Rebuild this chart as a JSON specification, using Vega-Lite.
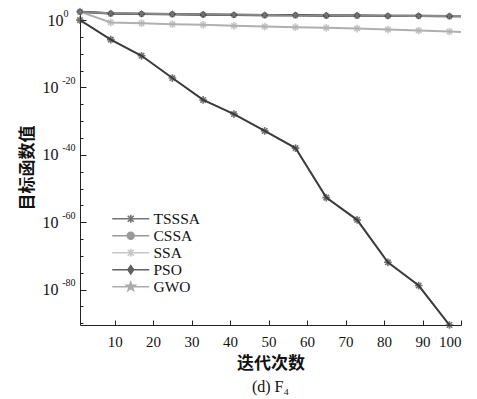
{
  "$schema": "https://vega.github.io/schema/vega-lite/v6.json",
  "width": 381,
  "height": 315,
  "autosize": "none",
  "padding": {"left": 80, "top": 10, "right": 16, "bottom": 74},
  "background": "white",
  "title": {"text": "(d) F₄", "orient": "bottom", "font": "Liberation Serif", "fontSize": 16, "fontWeight": "normal", "color": "#111", "offset": 8, "anchor": "middle"},
  "config": {
    "view": {"stroke": null},
    "axis": {"grid": false, "domainColor": "#222", "tickColor": "#222", "labelColor": "#111", "titleColor": "#111", "labelFont": "Liberation Serif", "labelFontSize": 15, "titleFont": "Noto Sans CJK SC", "titleFontSize": 17, "titleFontWeight": "bold"}
  },
  "resolve": {"axis": {"y": "independent"}},
  "data": {"values": [
    {"algo": "TSSSA", "iter": 1, "value": 1},
    {"algo": "TSSSA", "iter": 9, "value": 1.58e-6},
    {"algo": "TSSSA", "iter": 17, "value": 2.51e-11},
    {"algo": "TSSSA", "iter": 25, "value": 6.31e-18},
    {"algo": "TSSSA", "iter": 33, "value": 2.0e-24},
    {"algo": "TSSSA", "iter": 41, "value": 1.26e-28},
    {"algo": "TSSSA", "iter": 49, "value": 1.26e-33},
    {"algo": "TSSSA", "iter": 57, "value": 1.0e-38},
    {"algo": "TSSSA", "iter": 65, "value": 2.0e-53},
    {"algo": "TSSSA", "iter": 73, "value": 5.01e-60},
    {"algo": "TSSSA", "iter": 81, "value": 1.26e-72},
    {"algo": "TSSSA", "iter": 89, "value": 1.58e-79},
    {"algo": "TSSSA", "iter": 97, "value": 3.0e-91},
    {"algo": "CSSA", "iter": 1, "value": 316},
    {"algo": "CSSA", "iter": 9, "value": 79.4},
    {"algo": "CSSA", "iter": 17, "value": 63.1},
    {"algo": "CSSA", "iter": 25, "value": 50.1},
    {"algo": "CSSA", "iter": 33, "value": 39.8},
    {"algo": "CSSA", "iter": 41, "value": 31.6},
    {"algo": "CSSA", "iter": 49, "value": 25.1},
    {"algo": "CSSA", "iter": 57, "value": 25.1},
    {"algo": "CSSA", "iter": 65, "value": 20.0},
    {"algo": "CSSA", "iter": 73, "value": 20.0},
    {"algo": "CSSA", "iter": 81, "value": 15.8},
    {"algo": "CSSA", "iter": 89, "value": 15.8},
    {"algo": "CSSA", "iter": 97, "value": 12.6},
    {"algo": "CSSA", "iter": 100, "value": 12.6},
    {"algo": "SSA", "iter": 1, "value": 316},
    {"algo": "SSA", "iter": 9, "value": 0.2},
    {"algo": "SSA", "iter": 17, "value": 0.126},
    {"algo": "SSA", "iter": 25, "value": 0.063},
    {"algo": "SSA", "iter": 33, "value": 0.0398},
    {"algo": "SSA", "iter": 41, "value": 0.02},
    {"algo": "SSA", "iter": 49, "value": 0.0126},
    {"algo": "SSA", "iter": 57, "value": 0.0079},
    {"algo": "SSA", "iter": 65, "value": 0.005},
    {"algo": "SSA", "iter": 73, "value": 0.00316},
    {"algo": "SSA", "iter": 81, "value": 0.00158},
    {"algo": "SSA", "iter": 89, "value": 0.00079},
    {"algo": "SSA", "iter": 97, "value": 0.0004},
    {"algo": "SSA", "iter": 100, "value": 0.000316},
    {"algo": "PSO", "iter": 1, "value": 316},
    {"algo": "PSO", "iter": 9, "value": 100},
    {"algo": "PSO", "iter": 17, "value": 79.4},
    {"algo": "PSO", "iter": 25, "value": 63.1},
    {"algo": "PSO", "iter": 33, "value": 50.1},
    {"algo": "PSO", "iter": 41, "value": 39.8},
    {"algo": "PSO", "iter": 49, "value": 31.6},
    {"algo": "PSO", "iter": 57, "value": 31.6},
    {"algo": "PSO", "iter": 65, "value": 25.1},
    {"algo": "PSO", "iter": 73, "value": 25.1},
    {"algo": "PSO", "iter": 81, "value": 20.0},
    {"algo": "PSO", "iter": 89, "value": 20.0},
    {"algo": "PSO", "iter": 97, "value": 15.8},
    {"algo": "PSO", "iter": 100, "value": 15.8},
    {"algo": "GWO", "iter": 1, "value": 251},
    {"algo": "GWO", "iter": 9, "value": 100},
    {"algo": "GWO", "iter": 17, "value": 79.4},
    {"algo": "GWO", "iter": 25, "value": 63.1},
    {"algo": "GWO", "iter": 33, "value": 50.1},
    {"algo": "GWO", "iter": 41, "value": 39.8},
    {"algo": "GWO", "iter": 49, "value": 31.6},
    {"algo": "GWO", "iter": 57, "value": 25.1},
    {"algo": "GWO", "iter": 65, "value": 25.1},
    {"algo": "GWO", "iter": 73, "value": 20.0},
    {"algo": "GWO", "iter": 81, "value": 20.0},
    {"algo": "GWO", "iter": 89, "value": 15.8},
    {"algo": "GWO", "iter": 97, "value": 15.8},
    {"algo": "GWO", "iter": 100, "value": 15.8}
  ]},
  "encoding": {
    "x": {"field": "iter", "type": "quantitative", "scale": {"domain": [1, 100], "nice": false, "zero": false},
      "axis": {"values": [10, 20, 30, 40, 50, 60, 70, 80, 90, 100], "tickSize": -5, "labelPadding": 14, "title": "迭代次数", "titlePadding": 6}},
    "color": {"field": "algo", "type": "nominal",
      "scale": {"domain": ["TSSSA", "CSSA", "SSA", "PSO", "GWO"], "range": ["#3a3a3a", "#6e6e6e", "#b0b0b0", "#1e1e1e", "#8a8a8a"]}}
  },
  "layer": [
    {"transform": [{"filter": "false"}],
      "mark": {"type": "point", "filled": false, "strokeWidth": 1.6},
      "encoding": {
        "y": {"field": "value", "type": "quantitative", "scale": {"type": "log", "domain": [3e-91, 1000], "nice": false},
          "axis": {"values": [1, 1e-5, 1e-10, 1e-15, 1e-20, 1e-25, 1e-30, 1e-35, 1e-40, 1e-45, 1e-50, 1e-55, 1e-60, 1e-65, 1e-70, 1e-75, 1e-80, 1e-85, 1e-90],
            "tickSize": {"condition": {"test": "round(log(datum.value)/LN10) % 20 == 0", "value": -6}, "value": -3},
            "labelPadding": {"condition": {"test": "datum.value == 1", "value": 23}, "value": 28},
            "labelFontSize": 16, "labelOverlap": false,
            "labelExpr": "(round(log(datum.value)/LN10) % 20 == 0) ? '10' : ''",
            "title": "目标函数值", "titlePadding": 6}},
        "color": {"field": "algo", "type": "nominal",
          "legend": {"title": null, "orient": "none", "legendX": 43, "legendY": 201, "symbolSize": 100, "symbolStrokeWidth": 1.6, "labelFont": "Liberation Serif", "labelFontSize": 15.5, "labelColor": "#111", "rowPadding": -3, "labelOffset": 15, "symbolOffset": 0}},
        "shape": {"field": "algo", "type": "nominal",
          "scale": {"domain": ["TSSSA", "CSSA", "SSA", "PSO", "GWO"],
            "range": [
              "M-3.7,0L3.7,0M-0.8,0L0.8,0M0,-0.8L0,0.8M-0.6,-0.6L0.6,0.6M-0.6,0.6L0.6,-0.6",
              "M-3.7,0L3.7,0M-0.68,0A0.68,0.68,0,1,0,0.68,0A0.68,0.68,0,1,0,-0.68,0Z",
              "M-3.7,0L3.7,0M0,-0.8L0,0.8M-0.6,-0.6L0.6,0.6M-0.6,0.6L0.6,-0.6",
              "M-3.7,0L3.7,0M0,-0.82L0.57,0L0,0.82L-0.57,0Z",
              "M-3.7,0L3.7,0M0,-0.9L0.216,-0.297L0.855,-0.279L0.342,0.108L0.531,0.729L0,0.36L-0.531,0.729L-0.342,0.108L-0.855,-0.279L-0.216,-0.297Z"
            ]},
          "legend": {"title": null}}
      }},
    {"mark": {"type": "line", "strokeWidth": 2, "clip": true},
      "encoding": {"y": {"field": "value", "type": "quantitative",
        "axis": {"orient": "left", "values": [1, 1e-20, 1e-40, 1e-60, 1e-80], "domain": false, "ticks": false, "tickSize": 0,
          "labelPadding": {"condition": {"test": "datum.value == 1", "value": 12}, "value": 5},
          "labelFontSize": 10, "labelOffset": -7, "labelOverlap": false, "labelBound": false, "labelFlush": false,
          "labelExpr": "datum.value == 1 ? '0' : toString(round(log(datum.value)/LN10))", "title": null}}}},
    {"transform": [{"filter": "datum.algo == 'TSSSA' && datum.iter <= 97"}], "mark": {"type": "point", "shape": "M-1,0L1,0M0,-1L0,1M-0.7,-0.7L0.7,0.7M-0.7,0.7L0.7,-0.7", "size": 60, "filled": false, "strokeWidth": 1.6},
      "encoding": {"y": {"field": "value", "type": "quantitative", "axis": null}}},
    {"transform": [{"filter": "datum.algo == 'CSSA' && datum.iter <= 97"}], "mark": {"type": "point", "shape": "circle", "size": 40, "filled": true},
      "encoding": {"y": {"field": "value", "type": "quantitative", "axis": null}}},
    {"transform": [{"filter": "datum.algo == 'SSA' && datum.iter <= 97"}], "mark": {"type": "point", "shape": "M-1,0L1,0M0,-1L0,1M-0.7,-0.7L0.7,0.7M-0.7,0.7L0.7,-0.7", "size": 60, "filled": false, "strokeWidth": 1.6},
      "encoding": {"y": {"field": "value", "type": "quantitative", "axis": null}}},
    {"transform": [{"filter": "datum.algo == 'PSO' && datum.iter <= 97"}], "mark": {"type": "point", "shape": "diamond", "size": 50, "filled": true},
      "encoding": {"y": {"field": "value", "type": "quantitative", "axis": null}}},
    {"transform": [{"filter": "datum.algo == 'GWO' && datum.iter <= 97"}], "mark": {"type": "point", "shape": "M0,-1L0.24,-0.33L0.95,-0.31L0.38,0.12L0.59,0.81L0,0.4L-0.59,0.81L-0.38,0.12L-0.95,-0.31L-0.24,-0.33Z", "size": 70, "filled": true},
      "encoding": {"y": {"field": "value", "type": "quantitative", "axis": null}}}
  ]
}
